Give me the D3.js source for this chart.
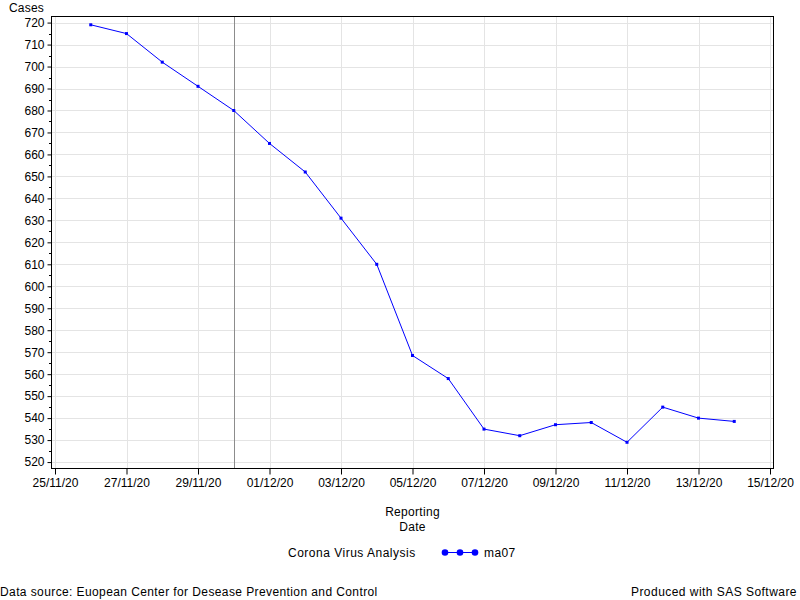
<!DOCTYPE html>
<html>
<head>
<meta charset="utf-8">
<script src="https://cdn.jsdelivr.net/npm/d3@7"></script>
<style>
body{margin:0;background:#fff;}
svg{display:block;font-family:"Liberation Sans",Arial,sans-serif;}
</style>
</head>
<body>
<svg id="chart" width="800" height="600"></svg>
<script>
// ---- data ----
const dates = ["2020-11-26","2020-11-27","2020-11-28","2020-11-29","2020-11-30","2020-12-01","2020-12-02","2020-12-03","2020-12-04","2020-12-05","2020-12-06","2020-12-07","2020-12-08","2020-12-09","2020-12-10","2020-12-11","2020-12-12","2020-12-13","2020-12-14"];
const ma07 = [719,715,702,691,680,665,652,631,610,568.5,558,535,532,537,538,529,545,540,538.5];
const xTickDates = ["2020-11-25","2020-11-27","2020-11-29","2020-12-01","2020-12-03","2020-12-05","2020-12-07","2020-12-09","2020-12-11","2020-12-13","2020-12-15"];
const yTicks = [520,530,540,550,560,570,580,590,600,610,620,630,640,650,660,670,680,690,700,710,720];
const refLineDate = "2020-11-30";
const yLabel = "Cases";
const xLabelLines = ["Reporting","Date"];
const legendTitle = "Corona Virus Analysis";
const seriesName = "ma07";
const footLeft = "Data source: Euopean Center for Desease Prevention and Control";
const footRight = "Produced with SAS Software";

// ---- layout ----
const svg = d3.select("#chart");
const frame = {left:51, right:773, top:16, bottom:468};
const parse = d3.utcParse("%Y-%m-%d");
const fmt = d3.utcFormat("%d/%m/%y");
const x = d3.scaleUtc().domain([parse(xTickDates[0]), parse(xTickDates[xTickDates.length-1])]).range([55,770]);
const y = d3.scaleLinear().domain([517.3,723]).range([frame.bottom, frame.top]);
const blue = "#0000ff";

// gridlines
const g = svg.append("g");
g.selectAll("line.hg").data(yTicks).join("line")
  .attr("x1",frame.left).attr("x2",frame.right)
  .attr("y1",d=>Math.round(y(d))+0.5).attr("y2",d=>Math.round(y(d))+0.5)
  .attr("stroke","#e4e4e4");
g.selectAll("line.vg").data(xTickDates.map(parse)).join("line")
  .attr("y1",frame.top).attr("y2",frame.bottom)
  .attr("x1",d=>Math.round(x(d))+0.5).attr("x2",d=>Math.round(x(d))+0.5)
  .attr("stroke","#e4e4e4");

// reference line
const rx = Math.round(x(parse(refLineDate)))+0.5;
svg.append("line").attr("x1",rx).attr("x2",rx).attr("y1",frame.top).attr("y2",frame.bottom)
  .attr("stroke","#8c8c8c");

// series
const pts = dates.map((d,i)=>({d:parse(d),v:ma07[i]}));
svg.append("path").datum(pts)
  .attr("fill","none").attr("stroke",blue).attr("stroke-width",1)
  .attr("d",d3.line().x(p=>x(p.d)).y(p=>y(p.v)));
svg.selectAll("rect.m").data(pts).join("rect")
  .attr("x",p=>x(p.d)-1.5).attr("y",p=>y(p.v)-1.5).attr("width",3).attr("height",3)
  .attr("fill",blue);

// frame
svg.append("rect").attr("x",frame.left+0.5).attr("y",frame.top+0.5)
  .attr("width",frame.right-frame.left).attr("height",frame.bottom-frame.top)
  .attr("fill","none").attr("stroke","#000");

// y axis
const yAxis = d3.axisLeft(y).tickValues(yTicks).tickSize(4).tickPadding(3).tickFormat(d3.format("d"));
const ya = svg.append("g").attr("transform",`translate(${frame.left+0.5},0)`).call(yAxis);
ya.select(".domain").remove();
ya.selectAll(".tick line").attr("stroke","#000");
ya.selectAll("text").attr("font-size","12px").attr("fill","#000").attr("font-family","Liberation Sans, Arial, sans-serif");
// minor ticks
const minor = yTicks.slice(0,-1).map(v=>v+5);
svg.append("g").selectAll("line").data(minor).join("line")
  .attr("x1",frame.left-2).attr("x2",frame.left)
  .attr("y1",d=>Math.round(y(d))+0.5).attr("y2",d=>Math.round(y(d))+0.5)
  .attr("stroke","#000");

// x axis
const xAxis = d3.axisBottom(x).tickValues(xTickDates.map(parse)).tickSize(6).tickPadding(4).tickFormat(fmt);
const xa = svg.append("g").attr("transform",`translate(0,${frame.bottom+0.5})`).call(xAxis);
xa.select(".domain").remove();
xa.selectAll(".tick line").attr("stroke","#000");
xa.selectAll("text").attr("font-size","12px").attr("fill","#000").attr("font-family","Liberation Sans, Arial, sans-serif");

// labels
svg.append("text").attr("x",9).attr("y",12).attr("font-size","12px").attr("letter-spacing","0.2px").text(yLabel);
const cx = (x.range()[0]+x.range()[1])/2;
svg.append("text").attr("x",cx).attr("y",516).attr("text-anchor","middle").attr("font-size","12px").attr("letter-spacing","0.3px").text(xLabelLines[0]);
svg.append("text").attr("x",cx).attr("y",531).attr("text-anchor","middle").attr("font-size","12px").attr("letter-spacing","0.3px").text(xLabelLines[1]);

// legend
svg.append("text").attr("x",288).attr("y",557).attr("font-size","12px").attr("letter-spacing","0.5px").text(legendTitle);
svg.append("line").attr("x1",445).attr("x2",475).attr("y1",552.5).attr("y2",552.5).attr("stroke",blue);
svg.selectAll("circle.lg").data([445,460,475]).join("circle")
  .attr("cx",d=>d).attr("cy",552.5).attr("r",3.3).attr("fill",blue);
svg.append("text").attr("x",484).attr("y",557).attr("font-size","12px").attr("letter-spacing","0.4px").text(seriesName);

// footnotes
svg.append("text").attr("x",0).attr("y",596).attr("font-size","12px").attr("letter-spacing","0.4px").text(footLeft);
svg.append("text").attr("x",797).attr("y",596).attr("text-anchor","end").attr("font-size","12px").attr("letter-spacing","0.46px").text(footRight);
</script>
</body>
</html>
